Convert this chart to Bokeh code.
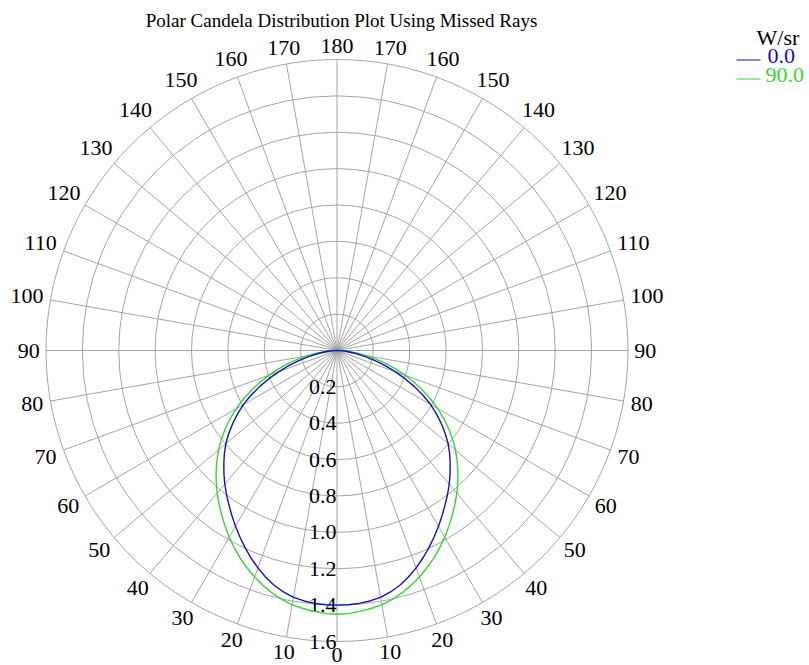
import numpy as np
from bokeh.plotting import figure
from bokeh.models import Label, Range1d
from bokeh.embed import file_html
from bokeh.resources import INLINE
from bokeh.core.properties import value

# ---------------- data ----------------
title_text = "Polar Candela Distribution Plot Using Missed Rays"
legend_title = "W/sr"
series_names = ["0.0", "90.0"]

theta_deg = [0, 2.5, 5, 7.5, 10, 12.5, 15, 17.5, 20, 22.5, 25, 27.5, 30, 32.5, 35, 37.5,
             40, 42.5, 45, 47.5, 50, 52.5, 55, 57.5, 60, 62.5, 65, 67.5, 70, 72.5, 75,
             77.5, 80, 82.5, 85, 87.5, 90]
plane_0 = [1.400, 1.399, 1.396, 1.389, 1.378, 1.360, 1.336, 1.306, 1.272, 1.235, 1.196,
           1.156, 1.116, 1.076, 1.036, 0.998, 0.960, 0.920, 0.880, 0.840, 0.798, 0.750,
           0.700, 0.648, 0.595, 0.533, 0.470, 0.405, 0.340, 0.278, 0.220, 0.167, 0.120,
           0.082, 0.050, 0.022, 0.0]
plane_90 = [1.450, 1.448, 1.440, 1.431, 1.420, 1.402, 1.380, 1.354, 1.325, 1.293, 1.260,
            1.223, 1.185, 1.145, 1.105, 1.065, 1.025, 0.983, 0.940, 0.896, 0.850, 0.801,
            0.750, 0.696, 0.640, 0.581, 0.520, 0.460, 0.400, 0.340, 0.280, 0.221, 0.165,
            0.113, 0.070, 0.032, 0.0]

ring_values = [0.2, 0.4, 0.6, 0.8, 1.0, 1.2, 1.4, 1.6]
ring_labels = ["0.2", "0.4", "0.6", "0.8", "1.0", "1.2", "1.4", "1.6"]
spoke_angles = list(range(0, 360, 10))
spoke_labels = [str(a if a <= 180 else 360 - a) for a in spoke_angles]

# ---------------- layout ----------------
W, H = 809, 665
CX, CY = 336.5, 350.0          # pixel position of the pole
R_MAX = 1.6
S = 291.0 / R_MAX              # pixels per unit
FONT = "Liberation Serif"
FS = 22
BLUE = "#1010c8"
GREEN = "#33d633"
GRID = "#a4a4a4"

p = figure(width=W, height=H, output_backend="svg", toolbar_location=None,
           x_axis_type=None, y_axis_type=None, min_border=0,
           x_range=Range1d(-CX / S, (W - CX) / S),
           y_range=Range1d(-(H - CY) / S, CY / S))
p.outline_line_color = None
p.background_fill_color = "white"
p.border_fill_color = "white"

# rings
p.circle(x=[0.0] * len(ring_values), y=[0.0] * len(ring_values), radius=ring_values,
         fill_color=None, line_color=GRID, line_width=1)

# spokes
ang = np.radians(spoke_angles)
sx, sy = np.sin(ang), -np.cos(ang)
p.segment(x0=np.zeros(len(ang)), y0=np.zeros(len(ang)), x1=R_MAX * sx, y1=R_MAX * sy,
          line_color=GRID, line_width=1)

# angle labels
gap = 6.0
hh = 7.5
lx, ly = [], []
for a_sx, a_sy, lab in zip(sx, sy, spoke_labels):
    hw = 5.6 * len(lab)
    d = 291.0 + gap + abs(a_sx) * hw + abs(a_sy) * hh
    lx.append(d * a_sx / S)
    ly.append(d * a_sy / S)
p.text(x=lx, y=ly, text=spoke_labels, text_font=value(FONT), text_font_size=f"{FS}px",
       text_align="center", text_baseline="middle", text_color="black")

# ring labels
p.text(x=[-0.5 / S] * len(ring_values), y=[-v for v in ring_values],
       text=ring_labels, text_font=value(FONT), text_font_size=f"{FS}px",
       text_align="right", text_baseline="middle", text_color="black")

# curves (mirrored on both sides of the nadir)
def polar_xy(vals):
    t = np.radians(theta_deg)
    v = np.array(vals)
    tt = np.concatenate([-t[::-1], t[1:]])
    vv = np.concatenate([v[::-1], v[1:]])
    return vv * np.sin(tt), -vv * np.cos(tt)

bx, by = polar_xy(plane_0)
gx, gy = polar_xy(plane_90)
p.line(gx, gy, line_color=GREEN, line_width=1.4)
p.line(bx, by, line_color=BLUE, line_width=1.4)

# title
p.add_layout(Label(x=341, y=H - 20, x_units="screen", y_units="screen", text=title_text,
                   text_font=FONT, text_font_size="19px", text_align="center",
                   text_baseline="middle", text_color="black"))

# legend
p.add_layout(Label(x=756, y=H - 37, x_units="screen", y_units="screen", text=legend_title,
                   text_font=FONT, text_font_size=f"{FS}px", text_align="left",
                   text_baseline="middle", text_color="black"))
leg_colors = [BLUE, GREEN]
leg_rows = [59.5, 78.5]
leg_text_rows = [55.5, 74.5]
leg_text_x = [767, 765]
for name, col, row, trow, tx in zip(series_names, leg_colors, leg_rows, leg_text_rows, leg_text_x):
    p.segment(x0=[(736 - CX) / S], y0=[(CY - row) / S], x1=[(760 - CX) / S], y1=[(CY - row) / S],
              line_color=col, line_width=1)
    p.add_layout(Label(x=tx, y=H - trow, x_units="screen", y_units="screen", text=name,
                       text_font=FONT, text_font_size=f"{FS}px", text_align="left",
                       text_baseline="middle", text_color=col))

open("out.html", "w").write(file_html(p, INLINE))
